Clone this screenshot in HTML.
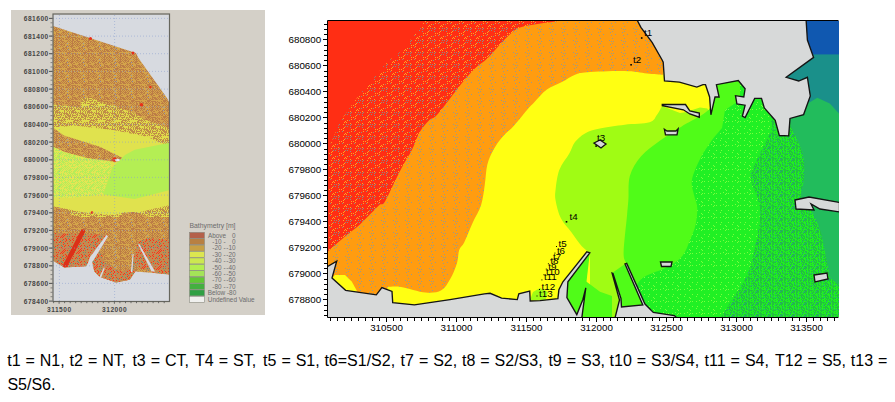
<!DOCTYPE html>
<html><head><meta charset="utf-8"><style>
html,body{margin:0;padding:0;background:#fff;width:895px;height:402px;overflow:hidden;position:relative}
.lt{font-family:"Liberation Sans",sans-serif;font-size:6.6px;font-weight:bold;letter-spacing:0.5px;fill:#464646}
.lg{font-family:"Liberation Sans",sans-serif;font-size:6.4px;fill:#6c6c6c}
.rt{font-family:"Liberation Sans",sans-serif;font-size:9.8px;fill:#000}
.st{font-family:"Liberation Sans",sans-serif;font-size:9.8px;fill:#000}
.cap{position:absolute;font-family:"Liberation Sans",sans-serif;font-size:16px;word-spacing:0.5px;color:#000;white-space:nowrap;line-height:18px}
</style></head><body>
<svg width="895" height="402" viewBox="0 0 895 402" style="position:absolute;left:0;top:0">
<defs><pattern id="pRed" patternUnits="userSpaceOnUse" x="0" y="0" width="12" height="12"><rect width="12" height="12" fill="#ff2e14"/><rect x="3" y="9" width="1" height="1" fill="#ffa424"/><rect x="8" y="2" width="1" height="1" fill="#ffa424"/><rect x="5" y="9" width="1" height="1" fill="#ffa424"/><rect x="7" y="10" width="1" height="1" fill="#ffa424"/><rect x="9" y="1" width="1" height="1" fill="#ffa424"/><rect x="7" y="4" width="1" height="1" fill="#ffa424"/><rect x="3" y="11" width="1" height="1" fill="#ffa424"/><rect x="7" y="8" width="1" height="1" fill="#ffa424"/><rect x="8" y="7" width="1" height="1" fill="#ffa424"/><rect x="2" y="3" width="1" height="1" fill="#ffa424"/><rect x="10" y="2" width="1" height="1" fill="#ffa424"/><rect x="11" y="0" width="1" height="1" fill="#ffa424"/><rect x="0" y="4" width="1" height="1" fill="#8c8c84"/><rect x="11" y="6" width="1" height="1" fill="#8c8c84"/><rect x="6" y="11" width="1" height="1" fill="#8c8c84"/><rect x="2" y="5" width="1" height="1" fill="#8c8c84"/><rect x="1" y="0" width="1" height="1" fill="#8c8c84"/><rect x="2" y="7" width="1" height="1" fill="#8c8c84"/><rect x="3" y="4" width="1" height="1" fill="#8c8c84"/><rect x="10" y="4" width="1" height="1" fill="#8c8c84"/><rect x="9" y="6" width="1" height="1" fill="#8c8c84"/></pattern><pattern id="pOra" patternUnits="userSpaceOnUse" x="0" y="0" width="12" height="12"><rect width="12" height="12" fill="#ff9c10"/><rect x="9" y="4" width="1" height="1" fill="#9a9a8a"/><rect x="11" y="5" width="1" height="1" fill="#9a9a8a"/><rect x="11" y="11" width="1" height="1" fill="#9a9a8a"/><rect x="10" y="8" width="1" height="1" fill="#9a9a8a"/><rect x="0" y="7" width="1" height="1" fill="#9a9a8a"/><rect x="3" y="10" width="1" height="1" fill="#9a9a8a"/><rect x="0" y="2" width="1" height="1" fill="#9a9a8a"/><rect x="1" y="5" width="1" height="1" fill="#9a9a8a"/></pattern><pattern id="pDg" patternUnits="userSpaceOnUse" x="0" y="0" width="12" height="12"><rect width="12" height="12" fill="#20f024"/><rect x="5" y="2" width="1" height="1" fill="#78ff3c"/><rect x="6" y="10" width="1" height="1" fill="#78ff3c"/><rect x="0" y="1" width="1" height="1" fill="#78ff3c"/><rect x="8" y="1" width="1" height="1" fill="#78ff3c"/><rect x="5" y="9" width="1" height="1" fill="#78ff3c"/><rect x="0" y="8" width="1" height="1" fill="#78ff3c"/><rect x="3" y="0" width="1" height="1" fill="#78ff3c"/><rect x="1" y="6" width="1" height="1" fill="#78ff3c"/><rect x="6" y="1" width="1" height="1" fill="#78ff3c"/><rect x="8" y="6" width="1" height="1" fill="#78ff3c"/></pattern><pattern id="pDk" patternUnits="userSpaceOnUse" x="0" y="0" width="12" height="12"><rect width="12" height="12" fill="#20f020"/><rect x="1" y="0" width="1" height="1" fill="#22c040"/><rect x="2" y="0" width="1" height="1" fill="#22c040"/><rect x="4" y="0" width="1" height="1" fill="#22c040"/><rect x="7" y="0" width="1" height="1" fill="#22c040"/><rect x="10" y="0" width="1" height="1" fill="#22c040"/><rect x="11" y="0" width="1" height="1" fill="#22c040"/><rect x="3" y="1" width="1" height="1" fill="#22c040"/><rect x="4" y="1" width="1" height="1" fill="#22c040"/><rect x="5" y="1" width="1" height="1" fill="#22c040"/><rect x="10" y="1" width="1" height="1" fill="#22c040"/><rect x="0" y="2" width="1" height="1" fill="#22c040"/><rect x="1" y="2" width="1" height="1" fill="#22c040"/><rect x="4" y="2" width="1" height="1" fill="#22c040"/><rect x="5" y="2" width="1" height="1" fill="#22c040"/><rect x="6" y="2" width="1" height="1" fill="#22c040"/><rect x="7" y="2" width="1" height="1" fill="#22c040"/><rect x="8" y="2" width="1" height="1" fill="#22c040"/><rect x="10" y="2" width="1" height="1" fill="#22c040"/><rect x="1" y="3" width="1" height="1" fill="#22c040"/><rect x="2" y="3" width="1" height="1" fill="#22c040"/><rect x="4" y="3" width="1" height="1" fill="#22c040"/><rect x="5" y="3" width="1" height="1" fill="#22c040"/><rect x="7" y="3" width="1" height="1" fill="#22c040"/><rect x="9" y="3" width="1" height="1" fill="#22c040"/><rect x="0" y="4" width="1" height="1" fill="#22c040"/><rect x="1" y="4" width="1" height="1" fill="#22c040"/><rect x="2" y="4" width="1" height="1" fill="#22c040"/><rect x="4" y="4" width="1" height="1" fill="#22c040"/><rect x="5" y="4" width="1" height="1" fill="#22c040"/><rect x="8" y="4" width="1" height="1" fill="#22c040"/><rect x="9" y="4" width="1" height="1" fill="#22c040"/><rect x="11" y="4" width="1" height="1" fill="#22c040"/><rect x="1" y="5" width="1" height="1" fill="#22c040"/><rect x="4" y="5" width="1" height="1" fill="#22c040"/><rect x="7" y="5" width="1" height="1" fill="#22c040"/><rect x="8" y="5" width="1" height="1" fill="#22c040"/><rect x="11" y="5" width="1" height="1" fill="#22c040"/><rect x="2" y="6" width="1" height="1" fill="#22c040"/><rect x="4" y="6" width="1" height="1" fill="#22c040"/><rect x="5" y="6" width="1" height="1" fill="#22c040"/><rect x="9" y="6" width="1" height="1" fill="#22c040"/><rect x="10" y="6" width="1" height="1" fill="#22c040"/><rect x="2" y="7" width="1" height="1" fill="#22c040"/><rect x="5" y="7" width="1" height="1" fill="#22c040"/><rect x="7" y="7" width="1" height="1" fill="#22c040"/><rect x="8" y="7" width="1" height="1" fill="#22c040"/><rect x="9" y="7" width="1" height="1" fill="#22c040"/><rect x="10" y="7" width="1" height="1" fill="#22c040"/><rect x="11" y="7" width="1" height="1" fill="#22c040"/><rect x="0" y="8" width="1" height="1" fill="#22c040"/><rect x="2" y="8" width="1" height="1" fill="#22c040"/><rect x="4" y="8" width="1" height="1" fill="#22c040"/><rect x="9" y="8" width="1" height="1" fill="#22c040"/><rect x="11" y="8" width="1" height="1" fill="#22c040"/><rect x="0" y="9" width="1" height="1" fill="#22c040"/><rect x="2" y="9" width="1" height="1" fill="#22c040"/><rect x="3" y="9" width="1" height="1" fill="#22c040"/><rect x="5" y="9" width="1" height="1" fill="#22c040"/><rect x="7" y="9" width="1" height="1" fill="#22c040"/><rect x="9" y="9" width="1" height="1" fill="#22c040"/><rect x="10" y="9" width="1" height="1" fill="#22c040"/><rect x="0" y="10" width="1" height="1" fill="#22c040"/><rect x="4" y="10" width="1" height="1" fill="#22c040"/><rect x="5" y="10" width="1" height="1" fill="#22c040"/><rect x="6" y="10" width="1" height="1" fill="#22c040"/><rect x="7" y="10" width="1" height="1" fill="#22c040"/><rect x="10" y="10" width="1" height="1" fill="#22c040"/><rect x="11" y="10" width="1" height="1" fill="#22c040"/><rect x="1" y="11" width="1" height="1" fill="#22c040"/><rect x="2" y="11" width="1" height="1" fill="#22c040"/><rect x="5" y="11" width="1" height="1" fill="#22c040"/><rect x="9" y="11" width="1" height="1" fill="#22c040"/><rect x="11" y="11" width="1" height="1" fill="#22c040"/><rect x="11" y="4" width="1" height="1" fill="#2a9c8a"/><rect x="9" y="9" width="1" height="1" fill="#2a9c8a"/><rect x="7" y="5" width="1" height="1" fill="#2a9c8a"/><rect x="1" y="0" width="1" height="1" fill="#2a9c8a"/><rect x="4" y="8" width="1" height="1" fill="#2a9c8a"/><rect x="2" y="2" width="1" height="1" fill="#2a9c8a"/><rect x="10" y="1" width="1" height="1" fill="#2a9c8a"/><rect x="0" y="3" width="1" height="1" fill="#2a9c8a"/><rect x="2" y="7" width="1" height="1" fill="#2a9c8a"/><rect x="7" y="9" width="1" height="1" fill="#2a9c8a"/></pattern><pattern id="pBr" patternUnits="userSpaceOnUse" x="0" y="0" width="16" height="16"><rect width="16" height="16" fill="#d4a44a"/><rect x="0" y="0" width="1" height="1" fill="#bc7c46"/><rect x="2" y="0" width="1" height="1" fill="#bc7c46"/><rect x="4" y="0" width="1" height="1" fill="#bc7c46"/><rect x="8" y="0" width="1" height="1" fill="#bc7c46"/><rect x="14" y="0" width="1" height="1" fill="#bc7c46"/><rect x="15" y="0" width="1" height="1" fill="#bc7c46"/><rect x="1" y="1" width="1" height="1" fill="#bc7c46"/><rect x="3" y="1" width="1" height="1" fill="#bc7c46"/><rect x="4" y="1" width="1" height="1" fill="#bc7c46"/><rect x="8" y="1" width="1" height="1" fill="#bc7c46"/><rect x="9" y="1" width="1" height="1" fill="#bc7c46"/><rect x="10" y="1" width="1" height="1" fill="#bc7c46"/><rect x="11" y="1" width="1" height="1" fill="#bc7c46"/><rect x="13" y="1" width="1" height="1" fill="#bc7c46"/><rect x="15" y="1" width="1" height="1" fill="#bc7c46"/><rect x="0" y="2" width="1" height="1" fill="#bc7c46"/><rect x="2" y="2" width="1" height="1" fill="#bc7c46"/><rect x="4" y="2" width="1" height="1" fill="#bc7c46"/><rect x="6" y="2" width="1" height="1" fill="#bc7c46"/><rect x="8" y="2" width="1" height="1" fill="#bc7c46"/><rect x="10" y="2" width="1" height="1" fill="#bc7c46"/><rect x="11" y="2" width="1" height="1" fill="#bc7c46"/><rect x="12" y="2" width="1" height="1" fill="#bc7c46"/><rect x="14" y="2" width="1" height="1" fill="#bc7c46"/><rect x="1" y="3" width="1" height="1" fill="#bc7c46"/><rect x="2" y="3" width="1" height="1" fill="#bc7c46"/><rect x="5" y="3" width="1" height="1" fill="#bc7c46"/><rect x="7" y="3" width="1" height="1" fill="#bc7c46"/><rect x="8" y="3" width="1" height="1" fill="#bc7c46"/><rect x="9" y="3" width="1" height="1" fill="#bc7c46"/><rect x="11" y="3" width="1" height="1" fill="#bc7c46"/><rect x="12" y="3" width="1" height="1" fill="#bc7c46"/><rect x="13" y="3" width="1" height="1" fill="#bc7c46"/><rect x="15" y="3" width="1" height="1" fill="#bc7c46"/><rect x="3" y="4" width="1" height="1" fill="#bc7c46"/><rect x="4" y="4" width="1" height="1" fill="#bc7c46"/><rect x="5" y="4" width="1" height="1" fill="#bc7c46"/><rect x="6" y="4" width="1" height="1" fill="#bc7c46"/><rect x="1" y="5" width="1" height="1" fill="#bc7c46"/><rect x="3" y="5" width="1" height="1" fill="#bc7c46"/><rect x="4" y="5" width="1" height="1" fill="#bc7c46"/><rect x="5" y="5" width="1" height="1" fill="#bc7c46"/><rect x="7" y="5" width="1" height="1" fill="#bc7c46"/><rect x="8" y="5" width="1" height="1" fill="#bc7c46"/><rect x="9" y="5" width="1" height="1" fill="#bc7c46"/><rect x="10" y="5" width="1" height="1" fill="#bc7c46"/><rect x="11" y="5" width="1" height="1" fill="#bc7c46"/><rect x="13" y="5" width="1" height="1" fill="#bc7c46"/><rect x="2" y="6" width="1" height="1" fill="#bc7c46"/><rect x="4" y="6" width="1" height="1" fill="#bc7c46"/><rect x="6" y="6" width="1" height="1" fill="#bc7c46"/><rect x="8" y="6" width="1" height="1" fill="#bc7c46"/><rect x="11" y="6" width="1" height="1" fill="#bc7c46"/><rect x="12" y="6" width="1" height="1" fill="#bc7c46"/><rect x="14" y="6" width="1" height="1" fill="#bc7c46"/><rect x="15" y="6" width="1" height="1" fill="#bc7c46"/><rect x="1" y="7" width="1" height="1" fill="#bc7c46"/><rect x="2" y="7" width="1" height="1" fill="#bc7c46"/><rect x="3" y="7" width="1" height="1" fill="#bc7c46"/><rect x="5" y="7" width="1" height="1" fill="#bc7c46"/><rect x="8" y="7" width="1" height="1" fill="#bc7c46"/><rect x="9" y="7" width="1" height="1" fill="#bc7c46"/><rect x="11" y="7" width="1" height="1" fill="#bc7c46"/><rect x="13" y="7" width="1" height="1" fill="#bc7c46"/><rect x="15" y="7" width="1" height="1" fill="#bc7c46"/><rect x="4" y="8" width="1" height="1" fill="#bc7c46"/><rect x="6" y="8" width="1" height="1" fill="#bc7c46"/><rect x="8" y="8" width="1" height="1" fill="#bc7c46"/><rect x="9" y="8" width="1" height="1" fill="#bc7c46"/><rect x="12" y="8" width="1" height="1" fill="#bc7c46"/><rect x="13" y="8" width="1" height="1" fill="#bc7c46"/><rect x="3" y="9" width="1" height="1" fill="#bc7c46"/><rect x="5" y="9" width="1" height="1" fill="#bc7c46"/><rect x="7" y="9" width="1" height="1" fill="#bc7c46"/><rect x="8" y="9" width="1" height="1" fill="#bc7c46"/><rect x="10" y="9" width="1" height="1" fill="#bc7c46"/><rect x="11" y="9" width="1" height="1" fill="#bc7c46"/><rect x="13" y="9" width="1" height="1" fill="#bc7c46"/><rect x="14" y="9" width="1" height="1" fill="#bc7c46"/><rect x="15" y="9" width="1" height="1" fill="#bc7c46"/><rect x="0" y="10" width="1" height="1" fill="#bc7c46"/><rect x="2" y="10" width="1" height="1" fill="#bc7c46"/><rect x="6" y="10" width="1" height="1" fill="#bc7c46"/><rect x="8" y="10" width="1" height="1" fill="#bc7c46"/><rect x="10" y="10" width="1" height="1" fill="#bc7c46"/><rect x="12" y="10" width="1" height="1" fill="#bc7c46"/><rect x="14" y="10" width="1" height="1" fill="#bc7c46"/><rect x="1" y="11" width="1" height="1" fill="#bc7c46"/><rect x="3" y="11" width="1" height="1" fill="#bc7c46"/><rect x="5" y="11" width="1" height="1" fill="#bc7c46"/><rect x="7" y="11" width="1" height="1" fill="#bc7c46"/><rect x="8" y="11" width="1" height="1" fill="#bc7c46"/><rect x="9" y="11" width="1" height="1" fill="#bc7c46"/><rect x="11" y="11" width="1" height="1" fill="#bc7c46"/><rect x="13" y="11" width="1" height="1" fill="#bc7c46"/><rect x="15" y="11" width="1" height="1" fill="#bc7c46"/><rect x="0" y="12" width="1" height="1" fill="#bc7c46"/><rect x="6" y="12" width="1" height="1" fill="#bc7c46"/><rect x="8" y="12" width="1" height="1" fill="#bc7c46"/><rect x="10" y="12" width="1" height="1" fill="#bc7c46"/><rect x="12" y="12" width="1" height="1" fill="#bc7c46"/><rect x="13" y="12" width="1" height="1" fill="#bc7c46"/><rect x="14" y="12" width="1" height="1" fill="#bc7c46"/><rect x="0" y="13" width="1" height="1" fill="#bc7c46"/><rect x="3" y="13" width="1" height="1" fill="#bc7c46"/><rect x="5" y="13" width="1" height="1" fill="#bc7c46"/><rect x="7" y="13" width="1" height="1" fill="#bc7c46"/><rect x="8" y="13" width="1" height="1" fill="#bc7c46"/><rect x="9" y="13" width="1" height="1" fill="#bc7c46"/><rect x="11" y="13" width="1" height="1" fill="#bc7c46"/><rect x="13" y="13" width="1" height="1" fill="#bc7c46"/><rect x="15" y="13" width="1" height="1" fill="#bc7c46"/><rect x="2" y="14" width="1" height="1" fill="#bc7c46"/><rect x="4" y="14" width="1" height="1" fill="#bc7c46"/><rect x="6" y="14" width="1" height="1" fill="#bc7c46"/><rect x="7" y="14" width="1" height="1" fill="#bc7c46"/><rect x="8" y="14" width="1" height="1" fill="#bc7c46"/><rect x="12" y="14" width="1" height="1" fill="#bc7c46"/><rect x="14" y="14" width="1" height="1" fill="#bc7c46"/><rect x="1" y="15" width="1" height="1" fill="#bc7c46"/><rect x="2" y="15" width="1" height="1" fill="#bc7c46"/><rect x="7" y="15" width="1" height="1" fill="#bc7c46"/><rect x="9" y="15" width="1" height="1" fill="#bc7c46"/><rect x="10" y="15" width="1" height="1" fill="#bc7c46"/><rect x="15" y="15" width="1" height="1" fill="#bc7c46"/><rect x="4" y="1" width="1" height="1" fill="#9aa0a8"/><rect x="3" y="14" width="1" height="1" fill="#9aa0a8"/><rect x="3" y="11" width="1" height="1" fill="#9aa0a8"/></pattern><pattern id="pYb" patternUnits="userSpaceOnUse" x="0" y="0" width="16" height="16"><rect width="16" height="16" fill="#e0dc4a"/><rect x="0" y="0" width="1" height="1" fill="#c08c48"/><rect x="2" y="0" width="1" height="1" fill="#c08c48"/><rect x="5" y="0" width="1" height="1" fill="#c08c48"/><rect x="7" y="0" width="1" height="1" fill="#c08c48"/><rect x="8" y="0" width="1" height="1" fill="#c08c48"/><rect x="9" y="0" width="1" height="1" fill="#c08c48"/><rect x="10" y="0" width="1" height="1" fill="#c08c48"/><rect x="11" y="0" width="1" height="1" fill="#c08c48"/><rect x="12" y="0" width="1" height="1" fill="#c08c48"/><rect x="14" y="0" width="1" height="1" fill="#c08c48"/><rect x="0" y="1" width="1" height="1" fill="#c08c48"/><rect x="1" y="1" width="1" height="1" fill="#c08c48"/><rect x="2" y="1" width="1" height="1" fill="#c08c48"/><rect x="3" y="1" width="1" height="1" fill="#c08c48"/><rect x="5" y="1" width="1" height="1" fill="#c08c48"/><rect x="7" y="1" width="1" height="1" fill="#c08c48"/><rect x="9" y="1" width="1" height="1" fill="#c08c48"/><rect x="11" y="1" width="1" height="1" fill="#c08c48"/><rect x="13" y="1" width="1" height="1" fill="#c08c48"/><rect x="15" y="1" width="1" height="1" fill="#c08c48"/><rect x="0" y="2" width="1" height="1" fill="#c08c48"/><rect x="2" y="2" width="1" height="1" fill="#c08c48"/><rect x="3" y="2" width="1" height="1" fill="#c08c48"/><rect x="4" y="2" width="1" height="1" fill="#c08c48"/><rect x="6" y="2" width="1" height="1" fill="#c08c48"/><rect x="8" y="2" width="1" height="1" fill="#c08c48"/><rect x="12" y="2" width="1" height="1" fill="#c08c48"/><rect x="13" y="2" width="1" height="1" fill="#c08c48"/><rect x="1" y="3" width="1" height="1" fill="#c08c48"/><rect x="3" y="3" width="1" height="1" fill="#c08c48"/><rect x="4" y="3" width="1" height="1" fill="#c08c48"/><rect x="5" y="3" width="1" height="1" fill="#c08c48"/><rect x="6" y="3" width="1" height="1" fill="#c08c48"/><rect x="8" y="3" width="1" height="1" fill="#c08c48"/><rect x="9" y="3" width="1" height="1" fill="#c08c48"/><rect x="10" y="3" width="1" height="1" fill="#c08c48"/><rect x="11" y="3" width="1" height="1" fill="#c08c48"/><rect x="13" y="3" width="1" height="1" fill="#c08c48"/><rect x="15" y="3" width="1" height="1" fill="#c08c48"/><rect x="1" y="4" width="1" height="1" fill="#c08c48"/><rect x="2" y="4" width="1" height="1" fill="#c08c48"/><rect x="4" y="4" width="1" height="1" fill="#c08c48"/><rect x="5" y="4" width="1" height="1" fill="#c08c48"/><rect x="6" y="4" width="1" height="1" fill="#c08c48"/><rect x="8" y="4" width="1" height="1" fill="#c08c48"/><rect x="12" y="4" width="1" height="1" fill="#c08c48"/><rect x="1" y="5" width="1" height="1" fill="#c08c48"/><rect x="2" y="5" width="1" height="1" fill="#c08c48"/><rect x="3" y="5" width="1" height="1" fill="#c08c48"/><rect x="5" y="5" width="1" height="1" fill="#c08c48"/><rect x="7" y="5" width="1" height="1" fill="#c08c48"/><rect x="9" y="5" width="1" height="1" fill="#c08c48"/><rect x="10" y="5" width="1" height="1" fill="#c08c48"/><rect x="11" y="5" width="1" height="1" fill="#c08c48"/><rect x="12" y="5" width="1" height="1" fill="#c08c48"/><rect x="14" y="5" width="1" height="1" fill="#c08c48"/><rect x="15" y="5" width="1" height="1" fill="#c08c48"/><rect x="0" y="6" width="1" height="1" fill="#c08c48"/><rect x="4" y="6" width="1" height="1" fill="#c08c48"/><rect x="5" y="6" width="1" height="1" fill="#c08c48"/><rect x="10" y="6" width="1" height="1" fill="#c08c48"/><rect x="14" y="6" width="1" height="1" fill="#c08c48"/><rect x="0" y="7" width="1" height="1" fill="#c08c48"/><rect x="1" y="7" width="1" height="1" fill="#c08c48"/><rect x="3" y="7" width="1" height="1" fill="#c08c48"/><rect x="5" y="7" width="1" height="1" fill="#c08c48"/><rect x="7" y="7" width="1" height="1" fill="#c08c48"/><rect x="8" y="7" width="1" height="1" fill="#c08c48"/><rect x="9" y="7" width="1" height="1" fill="#c08c48"/><rect x="11" y="7" width="1" height="1" fill="#c08c48"/><rect x="13" y="7" width="1" height="1" fill="#c08c48"/><rect x="15" y="7" width="1" height="1" fill="#c08c48"/><rect x="0" y="8" width="1" height="1" fill="#c08c48"/><rect x="10" y="8" width="1" height="1" fill="#c08c48"/><rect x="11" y="8" width="1" height="1" fill="#c08c48"/><rect x="12" y="8" width="1" height="1" fill="#c08c48"/><rect x="13" y="8" width="1" height="1" fill="#c08c48"/><rect x="14" y="8" width="1" height="1" fill="#c08c48"/><rect x="1" y="9" width="1" height="1" fill="#c08c48"/><rect x="9" y="9" width="1" height="1" fill="#c08c48"/><rect x="10" y="9" width="1" height="1" fill="#c08c48"/><rect x="13" y="9" width="1" height="1" fill="#c08c48"/><rect x="15" y="9" width="1" height="1" fill="#c08c48"/><rect x="4" y="10" width="1" height="1" fill="#c08c48"/><rect x="6" y="10" width="1" height="1" fill="#c08c48"/><rect x="7" y="10" width="1" height="1" fill="#c08c48"/><rect x="9" y="10" width="1" height="1" fill="#c08c48"/><rect x="10" y="10" width="1" height="1" fill="#c08c48"/><rect x="11" y="10" width="1" height="1" fill="#c08c48"/><rect x="12" y="10" width="1" height="1" fill="#c08c48"/><rect x="14" y="10" width="1" height="1" fill="#c08c48"/><rect x="0" y="11" width="1" height="1" fill="#c08c48"/><rect x="1" y="11" width="1" height="1" fill="#c08c48"/><rect x="3" y="11" width="1" height="1" fill="#c08c48"/><rect x="5" y="11" width="1" height="1" fill="#c08c48"/><rect x="7" y="11" width="1" height="1" fill="#c08c48"/><rect x="9" y="11" width="1" height="1" fill="#c08c48"/><rect x="12" y="11" width="1" height="1" fill="#c08c48"/><rect x="13" y="11" width="1" height="1" fill="#c08c48"/><rect x="15" y="11" width="1" height="1" fill="#c08c48"/><rect x="0" y="12" width="1" height="1" fill="#c08c48"/><rect x="2" y="12" width="1" height="1" fill="#c08c48"/><rect x="3" y="12" width="1" height="1" fill="#c08c48"/><rect x="5" y="12" width="1" height="1" fill="#c08c48"/><rect x="6" y="12" width="1" height="1" fill="#c08c48"/><rect x="7" y="12" width="1" height="1" fill="#c08c48"/><rect x="8" y="12" width="1" height="1" fill="#c08c48"/><rect x="10" y="12" width="1" height="1" fill="#c08c48"/><rect x="12" y="12" width="1" height="1" fill="#c08c48"/><rect x="14" y="12" width="1" height="1" fill="#c08c48"/><rect x="1" y="13" width="1" height="1" fill="#c08c48"/><rect x="2" y="13" width="1" height="1" fill="#c08c48"/><rect x="3" y="13" width="1" height="1" fill="#c08c48"/><rect x="5" y="13" width="1" height="1" fill="#c08c48"/><rect x="7" y="13" width="1" height="1" fill="#c08c48"/><rect x="10" y="13" width="1" height="1" fill="#c08c48"/><rect x="11" y="13" width="1" height="1" fill="#c08c48"/><rect x="13" y="13" width="1" height="1" fill="#c08c48"/><rect x="14" y="13" width="1" height="1" fill="#c08c48"/><rect x="15" y="13" width="1" height="1" fill="#c08c48"/><rect x="0" y="14" width="1" height="1" fill="#c08c48"/><rect x="2" y="14" width="1" height="1" fill="#c08c48"/><rect x="4" y="14" width="1" height="1" fill="#c08c48"/><rect x="6" y="14" width="1" height="1" fill="#c08c48"/><rect x="8" y="14" width="1" height="1" fill="#c08c48"/><rect x="9" y="14" width="1" height="1" fill="#c08c48"/><rect x="10" y="14" width="1" height="1" fill="#c08c48"/><rect x="0" y="15" width="1" height="1" fill="#c08c48"/><rect x="3" y="15" width="1" height="1" fill="#c08c48"/><rect x="5" y="15" width="1" height="1" fill="#c08c48"/><rect x="7" y="15" width="1" height="1" fill="#c08c48"/><rect x="8" y="15" width="1" height="1" fill="#c08c48"/><rect x="9" y="15" width="1" height="1" fill="#c08c48"/><rect x="11" y="15" width="1" height="1" fill="#c08c48"/></pattern><pattern id="pYm" patternUnits="userSpaceOnUse" x="0" y="0" width="16" height="16"><rect width="16" height="16" fill="#e4e654"/><rect x="0" y="0" width="1" height="1" fill="#b8ec58"/><rect x="2" y="0" width="1" height="1" fill="#b8ec58"/><rect x="4" y="0" width="1" height="1" fill="#b8ec58"/><rect x="6" y="0" width="1" height="1" fill="#b8ec58"/><rect x="7" y="0" width="1" height="1" fill="#b8ec58"/><rect x="10" y="0" width="1" height="1" fill="#b8ec58"/><rect x="12" y="0" width="1" height="1" fill="#b8ec58"/><rect x="14" y="0" width="1" height="1" fill="#b8ec58"/><rect x="1" y="1" width="1" height="1" fill="#b8ec58"/><rect x="2" y="1" width="1" height="1" fill="#b8ec58"/><rect x="3" y="1" width="1" height="1" fill="#b8ec58"/><rect x="7" y="1" width="1" height="1" fill="#b8ec58"/><rect x="11" y="1" width="1" height="1" fill="#b8ec58"/><rect x="13" y="1" width="1" height="1" fill="#b8ec58"/><rect x="14" y="1" width="1" height="1" fill="#b8ec58"/><rect x="15" y="1" width="1" height="1" fill="#b8ec58"/><rect x="0" y="2" width="1" height="1" fill="#b8ec58"/><rect x="4" y="2" width="1" height="1" fill="#b8ec58"/><rect x="10" y="2" width="1" height="1" fill="#b8ec58"/><rect x="12" y="2" width="1" height="1" fill="#b8ec58"/><rect x="14" y="2" width="1" height="1" fill="#b8ec58"/><rect x="15" y="2" width="1" height="1" fill="#b8ec58"/><rect x="1" y="3" width="1" height="1" fill="#b8ec58"/><rect x="3" y="3" width="1" height="1" fill="#b8ec58"/><rect x="5" y="3" width="1" height="1" fill="#b8ec58"/><rect x="6" y="3" width="1" height="1" fill="#b8ec58"/><rect x="7" y="3" width="1" height="1" fill="#b8ec58"/><rect x="9" y="3" width="1" height="1" fill="#b8ec58"/><rect x="10" y="3" width="1" height="1" fill="#b8ec58"/><rect x="11" y="3" width="1" height="1" fill="#b8ec58"/><rect x="13" y="3" width="1" height="1" fill="#b8ec58"/><rect x="15" y="3" width="1" height="1" fill="#b8ec58"/><rect x="0" y="4" width="1" height="1" fill="#b8ec58"/><rect x="4" y="4" width="1" height="1" fill="#b8ec58"/><rect x="6" y="4" width="1" height="1" fill="#b8ec58"/><rect x="8" y="4" width="1" height="1" fill="#b8ec58"/><rect x="12" y="4" width="1" height="1" fill="#b8ec58"/><rect x="13" y="4" width="1" height="1" fill="#b8ec58"/><rect x="14" y="4" width="1" height="1" fill="#b8ec58"/><rect x="1" y="5" width="1" height="1" fill="#b8ec58"/><rect x="3" y="5" width="1" height="1" fill="#b8ec58"/><rect x="8" y="5" width="1" height="1" fill="#b8ec58"/><rect x="11" y="5" width="1" height="1" fill="#b8ec58"/><rect x="13" y="5" width="1" height="1" fill="#b8ec58"/><rect x="0" y="6" width="1" height="1" fill="#b8ec58"/><rect x="1" y="6" width="1" height="1" fill="#b8ec58"/><rect x="2" y="6" width="1" height="1" fill="#b8ec58"/><rect x="4" y="6" width="1" height="1" fill="#b8ec58"/><rect x="7" y="6" width="1" height="1" fill="#b8ec58"/><rect x="8" y="6" width="1" height="1" fill="#b8ec58"/><rect x="9" y="6" width="1" height="1" fill="#b8ec58"/><rect x="10" y="6" width="1" height="1" fill="#b8ec58"/><rect x="14" y="6" width="1" height="1" fill="#b8ec58"/><rect x="1" y="7" width="1" height="1" fill="#b8ec58"/><rect x="3" y="7" width="1" height="1" fill="#b8ec58"/><rect x="5" y="7" width="1" height="1" fill="#b8ec58"/><rect x="13" y="7" width="1" height="1" fill="#b8ec58"/><rect x="15" y="7" width="1" height="1" fill="#b8ec58"/><rect x="0" y="8" width="1" height="1" fill="#b8ec58"/><rect x="2" y="8" width="1" height="1" fill="#b8ec58"/><rect x="4" y="8" width="1" height="1" fill="#b8ec58"/><rect x="6" y="8" width="1" height="1" fill="#b8ec58"/><rect x="8" y="8" width="1" height="1" fill="#b8ec58"/><rect x="10" y="8" width="1" height="1" fill="#b8ec58"/><rect x="12" y="8" width="1" height="1" fill="#b8ec58"/><rect x="13" y="8" width="1" height="1" fill="#b8ec58"/><rect x="14" y="8" width="1" height="1" fill="#b8ec58"/><rect x="1" y="9" width="1" height="1" fill="#b8ec58"/><rect x="3" y="9" width="1" height="1" fill="#b8ec58"/><rect x="5" y="9" width="1" height="1" fill="#b8ec58"/><rect x="6" y="9" width="1" height="1" fill="#b8ec58"/><rect x="7" y="9" width="1" height="1" fill="#b8ec58"/><rect x="9" y="9" width="1" height="1" fill="#b8ec58"/><rect x="11" y="9" width="1" height="1" fill="#b8ec58"/><rect x="12" y="9" width="1" height="1" fill="#b8ec58"/><rect x="13" y="9" width="1" height="1" fill="#b8ec58"/><rect x="15" y="9" width="1" height="1" fill="#b8ec58"/><rect x="2" y="10" width="1" height="1" fill="#b8ec58"/><rect x="4" y="10" width="1" height="1" fill="#b8ec58"/><rect x="5" y="10" width="1" height="1" fill="#b8ec58"/><rect x="6" y="10" width="1" height="1" fill="#b8ec58"/><rect x="10" y="10" width="1" height="1" fill="#b8ec58"/><rect x="11" y="10" width="1" height="1" fill="#b8ec58"/><rect x="12" y="10" width="1" height="1" fill="#b8ec58"/><rect x="14" y="10" width="1" height="1" fill="#b8ec58"/><rect x="0" y="11" width="1" height="1" fill="#b8ec58"/><rect x="1" y="11" width="1" height="1" fill="#b8ec58"/><rect x="2" y="11" width="1" height="1" fill="#b8ec58"/><rect x="3" y="11" width="1" height="1" fill="#b8ec58"/><rect x="5" y="11" width="1" height="1" fill="#b8ec58"/><rect x="7" y="11" width="1" height="1" fill="#b8ec58"/><rect x="9" y="11" width="1" height="1" fill="#b8ec58"/><rect x="10" y="11" width="1" height="1" fill="#b8ec58"/><rect x="11" y="11" width="1" height="1" fill="#b8ec58"/><rect x="13" y="11" width="1" height="1" fill="#b8ec58"/><rect x="0" y="12" width="1" height="1" fill="#b8ec58"/><rect x="2" y="12" width="1" height="1" fill="#b8ec58"/><rect x="4" y="12" width="1" height="1" fill="#b8ec58"/><rect x="5" y="12" width="1" height="1" fill="#b8ec58"/><rect x="6" y="12" width="1" height="1" fill="#b8ec58"/><rect x="9" y="12" width="1" height="1" fill="#b8ec58"/><rect x="10" y="12" width="1" height="1" fill="#b8ec58"/><rect x="3" y="13" width="1" height="1" fill="#b8ec58"/><rect x="5" y="13" width="1" height="1" fill="#b8ec58"/><rect x="7" y="13" width="1" height="1" fill="#b8ec58"/><rect x="8" y="13" width="1" height="1" fill="#b8ec58"/><rect x="9" y="13" width="1" height="1" fill="#b8ec58"/><rect x="10" y="13" width="1" height="1" fill="#b8ec58"/><rect x="11" y="13" width="1" height="1" fill="#b8ec58"/><rect x="13" y="13" width="1" height="1" fill="#b8ec58"/><rect x="15" y="13" width="1" height="1" fill="#b8ec58"/><rect x="0" y="14" width="1" height="1" fill="#b8ec58"/><rect x="4" y="14" width="1" height="1" fill="#b8ec58"/><rect x="6" y="14" width="1" height="1" fill="#b8ec58"/><rect x="8" y="14" width="1" height="1" fill="#b8ec58"/><rect x="10" y="14" width="1" height="1" fill="#b8ec58"/><rect x="11" y="14" width="1" height="1" fill="#b8ec58"/><rect x="12" y="14" width="1" height="1" fill="#b8ec58"/><rect x="13" y="14" width="1" height="1" fill="#b8ec58"/><rect x="15" y="14" width="1" height="1" fill="#b8ec58"/><rect x="1" y="15" width="1" height="1" fill="#b8ec58"/><rect x="3" y="15" width="1" height="1" fill="#b8ec58"/><rect x="4" y="15" width="1" height="1" fill="#b8ec58"/><rect x="5" y="15" width="1" height="1" fill="#b8ec58"/><rect x="6" y="15" width="1" height="1" fill="#b8ec58"/><rect x="7" y="15" width="1" height="1" fill="#b8ec58"/><rect x="9" y="15" width="1" height="1" fill="#b8ec58"/><rect x="11" y="15" width="1" height="1" fill="#b8ec58"/><rect x="13" y="15" width="1" height="1" fill="#b8ec58"/><rect x="15" y="15" width="1" height="1" fill="#b8ec58"/></pattern><pattern id="pRb" patternUnits="userSpaceOnUse" x="0" y="0" width="16" height="16"><rect width="16" height="16" fill="#c48a50"/><rect x="6" y="0" width="1" height="1" fill="#ff3018"/><rect x="1" y="5" width="1" height="1" fill="#ff3018"/><rect x="11" y="7" width="1" height="1" fill="#ff3018"/><rect x="3" y="10" width="1" height="1" fill="#ff3018"/><rect x="14" y="11" width="1" height="1" fill="#ff3018"/><rect x="8" y="12" width="1" height="1" fill="#ff3018"/><rect x="7" y="6" width="1" height="1" fill="#ff3018"/><rect x="11" y="10" width="1" height="1" fill="#ff3018"/><rect x="7" y="9" width="1" height="1" fill="#ff3018"/><rect x="13" y="7" width="1" height="1" fill="#ff3018"/><rect x="14" y="13" width="1" height="1" fill="#ff3018"/><rect x="15" y="2" width="1" height="1" fill="#ff3018"/><rect x="2" y="15" width="1" height="1" fill="#ff3018"/><rect x="0" y="6" width="1" height="1" fill="#ff3018"/><rect x="4" y="5" width="1" height="1" fill="#ff3018"/><rect x="0" y="9" width="1" height="1" fill="#ff3018"/><rect x="15" y="4" width="1" height="1" fill="#ff3018"/><rect x="3" y="3" width="1" height="1" fill="#ff3018"/><rect x="12" y="1" width="1" height="1" fill="#ff3018"/><rect x="11" y="2" width="1" height="1" fill="#ff3018"/><rect x="9" y="5" width="1" height="1" fill="#ff3018"/><rect x="10" y="12" width="1" height="1" fill="#ff3018"/><rect x="15" y="10" width="1" height="1" fill="#ff3018"/><rect x="8" y="15" width="1" height="1" fill="#ff3018"/><rect x="15" y="12" width="1" height="1" fill="#ff3018"/><rect x="8" y="2" width="1" height="1" fill="#ff3018"/><rect x="1" y="14" width="1" height="1" fill="#ff3018"/><rect x="1" y="8" width="1" height="1" fill="#ff3018"/><rect x="5" y="15" width="1" height="1" fill="#ff3018"/><rect x="15" y="15" width="1" height="1" fill="#ff3018"/><rect x="1" y="1" width="1" height="1" fill="#ff3018"/><rect x="14" y="8" width="1" height="1" fill="#ff3018"/><rect x="2" y="0" width="1" height="1" fill="#ff3018"/><rect x="1" y="10" width="1" height="1" fill="#ff3018"/><rect x="12" y="13" width="1" height="1" fill="#ff3018"/><rect x="9" y="14" width="1" height="1" fill="#ff3018"/><rect x="9" y="0" width="1" height="1" fill="#ff3018"/><rect x="13" y="12" width="1" height="1" fill="#ff3018"/><rect x="0" y="11" width="1" height="1" fill="#ff3018"/><rect x="4" y="8" width="1" height="1" fill="#ff3018"/><rect x="3" y="12" width="1" height="1" fill="#6a8a7a"/><rect x="10" y="4" width="1" height="1" fill="#6a8a7a"/><rect x="0" y="3" width="1" height="1" fill="#6a8a7a"/><rect x="4" y="14" width="1" height="1" fill="#6a8a7a"/><rect x="5" y="6" width="1" height="1" fill="#6a8a7a"/><rect x="5" y="10" width="1" height="1" fill="#6a8a7a"/><rect x="5" y="1" width="1" height="1" fill="#6a8a7a"/><rect x="14" y="6" width="1" height="1" fill="#6a8a7a"/><rect x="13" y="5" width="1" height="1" fill="#6a8a7a"/><rect x="13" y="2" width="1" height="1" fill="#6a8a7a"/><rect x="14" y="0" width="1" height="1" fill="#6a8a7a"/><rect x="6" y="7" width="1" height="1" fill="#6a8a7a"/><rect x="5" y="12" width="1" height="1" fill="#6a8a7a"/><rect x="9" y="7" width="1" height="1" fill="#6a8a7a"/></pattern></defs>
<defs><clipPath id="cr"><rect x="328" y="21" width="511" height="296"/></clipPath><clipPath id="cl"><rect x="53" y="15" width="116" height="286.5"/></clipPath></defs>
<rect x="11" y="10" width="254" height="305" fill="#d4d0c8"/>
<rect x="52.5" y="14.5" width="116.5" height="287" fill="#d7dae0"/>
<g clip-path="url(#cl)">
<polygon points="52.0,25.7 135.9,53.1 138.4,58.0 167.0,97.9 170.0,104.0 170.0,274.4 168.2,274.4 154.5,273.0 135.3,271.6 129.8,279.8 116.2,282.6 108.0,279.8 99.7,277.1 94.3,271.6 91.5,258.0 86.0,266.2 64.2,267.5 53.2,260.7 52.0,260.7" fill="url(#pBr)"/>
<polygon points="52.0,104.4 80.7,107.6 81.5,97.9 92.0,97.9 103.4,102.8 114.7,106.0 134.0,113.3 147.0,120.6 166.4,127.0 170.0,130.0 170.0,217.0 150.0,217.0 130.0,211.0 118.0,217.0 75.0,217.0 60.0,207.0 52.0,207.0" fill="url(#pYb)"/>
<polygon points="52.0,127.0 61.3,127.0 74.3,125.4 114.7,130.3 147.0,136.7 161.6,143.2 170.0,145.0 170.0,205.0 140.0,212.0 125.0,212.0 115.0,215.0 87.0,213.0 62.0,208.0 52.0,206.0" fill="#e0e24e"/>
<polygon points="52.0,125.0 54.5,128.4 63.4,135.2 79.9,140.4 99.3,146.4 114.2,153.8 123.1,158.3 126.0,161.0 123.1,162.0 109.7,161.3 87.3,158.3 64.9,152.3 52.0,146.4" fill="url(#pBr)"/>
<polygon points="52.0,146.4 64.9,152.3 87.3,158.3 109.7,161.3 112.0,166.0 103.3,194.5 70.0,198.0 52.0,197.0" fill="url(#pYm)"/>
<polygon points="112.3,167.6 125.0,155.0 134.7,149.7 168.3,143.0 170.0,143.0 170.0,190.0 134.7,199.0 103.3,194.5" fill="#b4ee54"/>
<polygon points="52.0,233.0 70.0,233.5 100.0,234.4 108.0,234.4 104.0,245.0 91.5,258.0 86.0,266.2 64.2,267.5 53.2,260.7 52.0,260.7" fill="url(#pRb)"/>
<polygon points="91.5,258.0 100.0,250.0 105.0,262.0 111.0,267.0 121.0,271.0 130.0,269.0 134.0,262.0 135.3,271.6 129.8,279.8 116.2,282.6 108.0,279.8 99.7,277.1 94.3,271.6" fill="url(#pRb)"/>
<polygon points="138.0,241.0 150.0,238.0 170.0,240.0 170.0,274.4 154.5,273.0 140.0,268.0 132.0,262.0" fill="url(#pRb)"/>
<polygon points="106.6,234.7 108.0,236.5 93.0,261.0 87.0,266.0 90.0,257.0" fill="#d7dae0"/>
<polygon points="103.8,267.5 104.8,268.0 101.0,278.0 99.2,277.5" fill="#d7dae0"/>
<polygon points="132.6,253.8 133.6,254.0 132.4,272.0 130.8,272.0" fill="#d7dae0"/>
<polygon points="138.0,244.3 139.5,244.3 155.0,271.5 151.5,271.5" fill="#d7dae0"/>
<line x1="82.8" y1="231.5" x2="65.5" y2="265" stroke="#dc3018" stroke-width="4.5" stroke-linecap="round"/>
<circle cx="114.5" cy="159.5" r="2.2" fill="#e83018"/>
<circle cx="141.4" cy="104.8" r="1.8" fill="#e83018"/>
<circle cx="150.4" cy="87" r="1.3" fill="#e83018"/>
<circle cx="92" cy="212.5" r="1.3" fill="#e83018"/>
<circle cx="90.5" cy="38.5" r="1.5" fill="#e83018"/>
<circle cx="133" cy="53" r="1.5" fill="#e83018"/>
<ellipse cx="117.5" cy="160" rx="2.5" ry="1.3" fill="#e8e8e8"/>
</g>
<line x1="59.4" y1="15" x2="59.4" y2="301" stroke="#8ca0d0" stroke-width="1" stroke-dasharray="1,2" opacity="0.55"/>
<line x1="114.6" y1="15" x2="114.6" y2="301" stroke="#8ca0d0" stroke-width="1" stroke-dasharray="1,2" opacity="0.55"/>
<line x1="53" y1="18.4" x2="169" y2="18.4" stroke="#8ca0d0" stroke-width="1" stroke-dasharray="1,2" opacity="0.55"/>
<line x1="53" y1="36.1" x2="169" y2="36.1" stroke="#8ca0d0" stroke-width="1" stroke-dasharray="1,2" opacity="0.55"/>
<line x1="53" y1="53.7" x2="169" y2="53.7" stroke="#8ca0d0" stroke-width="1" stroke-dasharray="1,2" opacity="0.55"/>
<line x1="53" y1="71.4" x2="169" y2="71.4" stroke="#8ca0d0" stroke-width="1" stroke-dasharray="1,2" opacity="0.55"/>
<line x1="53" y1="89.1" x2="169" y2="89.1" stroke="#8ca0d0" stroke-width="1" stroke-dasharray="1,2" opacity="0.55"/>
<line x1="53" y1="106.8" x2="169" y2="106.8" stroke="#8ca0d0" stroke-width="1" stroke-dasharray="1,2" opacity="0.55"/>
<line x1="53" y1="124.4" x2="169" y2="124.4" stroke="#8ca0d0" stroke-width="1" stroke-dasharray="1,2" opacity="0.55"/>
<line x1="53" y1="142.1" x2="169" y2="142.1" stroke="#8ca0d0" stroke-width="1" stroke-dasharray="1,2" opacity="0.55"/>
<line x1="53" y1="159.8" x2="169" y2="159.8" stroke="#8ca0d0" stroke-width="1" stroke-dasharray="1,2" opacity="0.55"/>
<line x1="53" y1="177.4" x2="169" y2="177.4" stroke="#8ca0d0" stroke-width="1" stroke-dasharray="1,2" opacity="0.55"/>
<line x1="53" y1="195.1" x2="169" y2="195.1" stroke="#8ca0d0" stroke-width="1" stroke-dasharray="1,2" opacity="0.55"/>
<line x1="53" y1="212.8" x2="169" y2="212.8" stroke="#8ca0d0" stroke-width="1" stroke-dasharray="1,2" opacity="0.55"/>
<line x1="53" y1="230.4" x2="169" y2="230.4" stroke="#8ca0d0" stroke-width="1" stroke-dasharray="1,2" opacity="0.55"/>
<line x1="53" y1="248.1" x2="169" y2="248.1" stroke="#8ca0d0" stroke-width="1" stroke-dasharray="1,2" opacity="0.55"/>
<line x1="53" y1="265.8" x2="169" y2="265.8" stroke="#8ca0d0" stroke-width="1" stroke-dasharray="1,2" opacity="0.55"/>
<line x1="53" y1="283.4" x2="169" y2="283.4" stroke="#8ca0d0" stroke-width="1" stroke-dasharray="1,2" opacity="0.55"/>
<rect x="53" y="14" width="116.5" height="287.5" fill="none" stroke="#66665e" stroke-width="1.2"/>
<line x1="49" y1="18.4" x2="52.5" y2="18.4" stroke="#505050" stroke-width="1"/>
<text x="48.8" y="21.0" text-anchor="end" class="lt">681600</text>
<line x1="49" y1="36.1" x2="52.5" y2="36.1" stroke="#505050" stroke-width="1"/>
<text x="48.8" y="38.7" text-anchor="end" class="lt">681400</text>
<line x1="49" y1="53.7" x2="52.5" y2="53.7" stroke="#505050" stroke-width="1"/>
<text x="48.8" y="56.3" text-anchor="end" class="lt">681200</text>
<line x1="49" y1="71.4" x2="52.5" y2="71.4" stroke="#505050" stroke-width="1"/>
<text x="48.8" y="74.0" text-anchor="end" class="lt">681000</text>
<line x1="49" y1="89.1" x2="52.5" y2="89.1" stroke="#505050" stroke-width="1"/>
<text x="48.8" y="91.7" text-anchor="end" class="lt">680800</text>
<line x1="49" y1="106.8" x2="52.5" y2="106.8" stroke="#505050" stroke-width="1"/>
<text x="48.8" y="109.3" text-anchor="end" class="lt">680600</text>
<line x1="49" y1="124.4" x2="52.5" y2="124.4" stroke="#505050" stroke-width="1"/>
<text x="48.8" y="127.0" text-anchor="end" class="lt">680400</text>
<line x1="49" y1="142.1" x2="52.5" y2="142.1" stroke="#505050" stroke-width="1"/>
<text x="48.8" y="144.7" text-anchor="end" class="lt">680200</text>
<line x1="49" y1="159.8" x2="52.5" y2="159.8" stroke="#505050" stroke-width="1"/>
<text x="48.8" y="162.4" text-anchor="end" class="lt">680000</text>
<line x1="49" y1="177.4" x2="52.5" y2="177.4" stroke="#505050" stroke-width="1"/>
<text x="48.8" y="180.0" text-anchor="end" class="lt">679800</text>
<line x1="49" y1="195.1" x2="52.5" y2="195.1" stroke="#505050" stroke-width="1"/>
<text x="48.8" y="197.7" text-anchor="end" class="lt">679600</text>
<line x1="49" y1="212.8" x2="52.5" y2="212.8" stroke="#505050" stroke-width="1"/>
<text x="48.8" y="215.4" text-anchor="end" class="lt">679400</text>
<line x1="49" y1="230.4" x2="52.5" y2="230.4" stroke="#505050" stroke-width="1"/>
<text x="48.8" y="233.0" text-anchor="end" class="lt">679200</text>
<line x1="49" y1="248.1" x2="52.5" y2="248.1" stroke="#505050" stroke-width="1"/>
<text x="48.8" y="250.7" text-anchor="end" class="lt">679000</text>
<line x1="49" y1="265.8" x2="52.5" y2="265.8" stroke="#505050" stroke-width="1"/>
<text x="48.8" y="268.4" text-anchor="end" class="lt">678800</text>
<line x1="49" y1="283.4" x2="52.5" y2="283.4" stroke="#505050" stroke-width="1"/>
<text x="48.8" y="286.1" text-anchor="end" class="lt">678600</text>
<line x1="49" y1="301.1" x2="52.5" y2="301.1" stroke="#505050" stroke-width="1"/>
<text x="48.8" y="303.7" text-anchor="end" class="lt">678400</text>
<text x="59.3" y="312.3" text-anchor="middle" class="lt">311500</text>
<line x1="53.6" y1="301.5" x2="53.6" y2="303.2" stroke="#505050" stroke-width="0.8"/>
<line x1="59.1" y1="301.5" x2="59.1" y2="303.8" stroke="#505050" stroke-width="0.8"/>
<line x1="64.6" y1="301.5" x2="64.6" y2="303.2" stroke="#505050" stroke-width="0.8"/>
<line x1="70.2" y1="301.5" x2="70.2" y2="303.2" stroke="#505050" stroke-width="0.8"/>
<line x1="75.7" y1="301.5" x2="75.7" y2="303.2" stroke="#505050" stroke-width="0.8"/>
<line x1="81.2" y1="301.5" x2="81.2" y2="303.2" stroke="#505050" stroke-width="0.8"/>
<line x1="86.8" y1="301.5" x2="86.8" y2="303.2" stroke="#505050" stroke-width="0.8"/>
<line x1="92.3" y1="301.5" x2="92.3" y2="303.2" stroke="#505050" stroke-width="0.8"/>
<line x1="97.8" y1="301.5" x2="97.8" y2="303.2" stroke="#505050" stroke-width="0.8"/>
<line x1="103.3" y1="301.5" x2="103.3" y2="303.2" stroke="#505050" stroke-width="0.8"/>
<line x1="108.9" y1="301.5" x2="108.9" y2="303.2" stroke="#505050" stroke-width="0.8"/>
<line x1="114.4" y1="301.5" x2="114.4" y2="303.8" stroke="#505050" stroke-width="0.8"/>
<line x1="119.9" y1="301.5" x2="119.9" y2="303.2" stroke="#505050" stroke-width="0.8"/>
<line x1="125.5" y1="301.5" x2="125.5" y2="303.2" stroke="#505050" stroke-width="0.8"/>
<line x1="131.0" y1="301.5" x2="131.0" y2="303.2" stroke="#505050" stroke-width="0.8"/>
<line x1="136.5" y1="301.5" x2="136.5" y2="303.2" stroke="#505050" stroke-width="0.8"/>
<line x1="142.1" y1="301.5" x2="142.1" y2="303.2" stroke="#505050" stroke-width="0.8"/>
<line x1="147.6" y1="301.5" x2="147.6" y2="303.2" stroke="#505050" stroke-width="0.8"/>
<line x1="153.1" y1="301.5" x2="153.1" y2="303.2" stroke="#505050" stroke-width="0.8"/>
<line x1="158.6" y1="301.5" x2="158.6" y2="303.2" stroke="#505050" stroke-width="0.8"/>
<line x1="164.2" y1="301.5" x2="164.2" y2="303.2" stroke="#505050" stroke-width="0.8"/>
<line x1="50.5" y1="18.4" x2="52.5" y2="18.4" stroke="#606060" stroke-width="0.7"/>
<line x1="50.5" y1="22.8" x2="52.5" y2="22.8" stroke="#606060" stroke-width="0.7"/>
<line x1="50.5" y1="27.2" x2="52.5" y2="27.2" stroke="#606060" stroke-width="0.7"/>
<line x1="50.5" y1="31.7" x2="52.5" y2="31.7" stroke="#606060" stroke-width="0.7"/>
<line x1="50.5" y1="36.1" x2="52.5" y2="36.1" stroke="#606060" stroke-width="0.7"/>
<line x1="50.5" y1="40.5" x2="52.5" y2="40.5" stroke="#606060" stroke-width="0.7"/>
<line x1="50.5" y1="44.9" x2="52.5" y2="44.9" stroke="#606060" stroke-width="0.7"/>
<line x1="50.5" y1="49.3" x2="52.5" y2="49.3" stroke="#606060" stroke-width="0.7"/>
<line x1="50.5" y1="53.7" x2="52.5" y2="53.7" stroke="#606060" stroke-width="0.7"/>
<line x1="50.5" y1="58.2" x2="52.5" y2="58.2" stroke="#606060" stroke-width="0.7"/>
<line x1="50.5" y1="62.6" x2="52.5" y2="62.6" stroke="#606060" stroke-width="0.7"/>
<line x1="50.5" y1="67.0" x2="52.5" y2="67.0" stroke="#606060" stroke-width="0.7"/>
<line x1="50.5" y1="71.4" x2="52.5" y2="71.4" stroke="#606060" stroke-width="0.7"/>
<line x1="50.5" y1="75.8" x2="52.5" y2="75.8" stroke="#606060" stroke-width="0.7"/>
<line x1="50.5" y1="80.2" x2="52.5" y2="80.2" stroke="#606060" stroke-width="0.7"/>
<line x1="50.5" y1="84.7" x2="52.5" y2="84.7" stroke="#606060" stroke-width="0.7"/>
<line x1="50.5" y1="89.1" x2="52.5" y2="89.1" stroke="#606060" stroke-width="0.7"/>
<line x1="50.5" y1="93.5" x2="52.5" y2="93.5" stroke="#606060" stroke-width="0.7"/>
<line x1="50.5" y1="97.9" x2="52.5" y2="97.9" stroke="#606060" stroke-width="0.7"/>
<line x1="50.5" y1="102.3" x2="52.5" y2="102.3" stroke="#606060" stroke-width="0.7"/>
<line x1="50.5" y1="106.8" x2="52.5" y2="106.8" stroke="#606060" stroke-width="0.7"/>
<line x1="50.5" y1="111.2" x2="52.5" y2="111.2" stroke="#606060" stroke-width="0.7"/>
<line x1="50.5" y1="115.6" x2="52.5" y2="115.6" stroke="#606060" stroke-width="0.7"/>
<line x1="50.5" y1="120.0" x2="52.5" y2="120.0" stroke="#606060" stroke-width="0.7"/>
<line x1="50.5" y1="124.4" x2="52.5" y2="124.4" stroke="#606060" stroke-width="0.7"/>
<line x1="50.5" y1="128.8" x2="52.5" y2="128.8" stroke="#606060" stroke-width="0.7"/>
<line x1="50.5" y1="133.3" x2="52.5" y2="133.3" stroke="#606060" stroke-width="0.7"/>
<line x1="50.5" y1="137.7" x2="52.5" y2="137.7" stroke="#606060" stroke-width="0.7"/>
<line x1="50.5" y1="142.1" x2="52.5" y2="142.1" stroke="#606060" stroke-width="0.7"/>
<line x1="50.5" y1="146.5" x2="52.5" y2="146.5" stroke="#606060" stroke-width="0.7"/>
<line x1="50.5" y1="150.9" x2="52.5" y2="150.9" stroke="#606060" stroke-width="0.7"/>
<line x1="50.5" y1="155.3" x2="52.5" y2="155.3" stroke="#606060" stroke-width="0.7"/>
<line x1="50.5" y1="159.8" x2="52.5" y2="159.8" stroke="#606060" stroke-width="0.7"/>
<line x1="50.5" y1="164.2" x2="52.5" y2="164.2" stroke="#606060" stroke-width="0.7"/>
<line x1="50.5" y1="168.6" x2="52.5" y2="168.6" stroke="#606060" stroke-width="0.7"/>
<line x1="50.5" y1="173.0" x2="52.5" y2="173.0" stroke="#606060" stroke-width="0.7"/>
<line x1="50.5" y1="177.4" x2="52.5" y2="177.4" stroke="#606060" stroke-width="0.7"/>
<line x1="50.5" y1="181.8" x2="52.5" y2="181.8" stroke="#606060" stroke-width="0.7"/>
<line x1="50.5" y1="186.3" x2="52.5" y2="186.3" stroke="#606060" stroke-width="0.7"/>
<line x1="50.5" y1="190.7" x2="52.5" y2="190.7" stroke="#606060" stroke-width="0.7"/>
<line x1="50.5" y1="195.1" x2="52.5" y2="195.1" stroke="#606060" stroke-width="0.7"/>
<line x1="50.5" y1="199.5" x2="52.5" y2="199.5" stroke="#606060" stroke-width="0.7"/>
<line x1="50.5" y1="203.9" x2="52.5" y2="203.9" stroke="#606060" stroke-width="0.7"/>
<line x1="50.5" y1="208.4" x2="52.5" y2="208.4" stroke="#606060" stroke-width="0.7"/>
<line x1="50.5" y1="212.8" x2="52.5" y2="212.8" stroke="#606060" stroke-width="0.7"/>
<line x1="50.5" y1="217.2" x2="52.5" y2="217.2" stroke="#606060" stroke-width="0.7"/>
<line x1="50.5" y1="221.6" x2="52.5" y2="221.6" stroke="#606060" stroke-width="0.7"/>
<line x1="50.5" y1="226.0" x2="52.5" y2="226.0" stroke="#606060" stroke-width="0.7"/>
<line x1="50.5" y1="230.4" x2="52.5" y2="230.4" stroke="#606060" stroke-width="0.7"/>
<line x1="50.5" y1="234.9" x2="52.5" y2="234.9" stroke="#606060" stroke-width="0.7"/>
<line x1="50.5" y1="239.3" x2="52.5" y2="239.3" stroke="#606060" stroke-width="0.7"/>
<line x1="50.5" y1="243.7" x2="52.5" y2="243.7" stroke="#606060" stroke-width="0.7"/>
<line x1="50.5" y1="248.1" x2="52.5" y2="248.1" stroke="#606060" stroke-width="0.7"/>
<line x1="50.5" y1="252.5" x2="52.5" y2="252.5" stroke="#606060" stroke-width="0.7"/>
<line x1="50.5" y1="256.9" x2="52.5" y2="256.9" stroke="#606060" stroke-width="0.7"/>
<line x1="50.5" y1="261.4" x2="52.5" y2="261.4" stroke="#606060" stroke-width="0.7"/>
<line x1="50.5" y1="265.8" x2="52.5" y2="265.8" stroke="#606060" stroke-width="0.7"/>
<line x1="50.5" y1="270.2" x2="52.5" y2="270.2" stroke="#606060" stroke-width="0.7"/>
<line x1="50.5" y1="274.6" x2="52.5" y2="274.6" stroke="#606060" stroke-width="0.7"/>
<line x1="50.5" y1="279.0" x2="52.5" y2="279.0" stroke="#606060" stroke-width="0.7"/>
<line x1="50.5" y1="283.4" x2="52.5" y2="283.4" stroke="#606060" stroke-width="0.7"/>
<line x1="50.5" y1="287.9" x2="52.5" y2="287.9" stroke="#606060" stroke-width="0.7"/>
<line x1="50.5" y1="292.3" x2="52.5" y2="292.3" stroke="#606060" stroke-width="0.7"/>
<line x1="50.5" y1="296.7" x2="52.5" y2="296.7" stroke="#606060" stroke-width="0.7"/>
<text x="114.6" y="312.3" text-anchor="middle" class="lt">312000</text>
<text x="189.5" y="228.3" class="lg" textLength="46" lengthAdjust="spacingAndGlyphs">Bathymetry [m]</text>
<rect x="189.5" y="232.3" width="15" height="6" fill="#b4604a" stroke="#8a8a80" stroke-width="0.6"/>
<text x="207.9" y="237.5" class="lg">Above</text>
<text x="235.5" y="237.5" text-anchor="end" class="lg">0</text>
<rect x="189.5" y="238.7" width="15" height="6" fill="#b88042" stroke="#8a8a80" stroke-width="0.6"/>
<text x="221.5" y="243.9" text-anchor="end" class="lg">-10</text>
<text x="224.5" y="243.9" text-anchor="middle" class="lg">-</text>
<text x="235.5" y="243.9" text-anchor="end" class="lg">0</text>
<rect x="189.5" y="245.1" width="15" height="6" fill="#c8a044" stroke="#8a8a80" stroke-width="0.6"/>
<text x="221.5" y="250.3" text-anchor="end" class="lg">-20</text>
<text x="224.5" y="250.3" text-anchor="middle" class="lg">-</text>
<text x="235.5" y="250.3" text-anchor="end" class="lg">-10</text>
<rect x="189.5" y="251.5" width="15" height="6" fill="#dce650" stroke="#8a8a80" stroke-width="0.6"/>
<text x="221.5" y="256.7" text-anchor="end" class="lg">-30</text>
<text x="224.5" y="256.7" text-anchor="middle" class="lg">-</text>
<text x="235.5" y="256.7" text-anchor="end" class="lg">-20</text>
<rect x="189.5" y="257.9" width="15" height="6" fill="#cce850" stroke="#8a8a80" stroke-width="0.6"/>
<text x="221.5" y="263.1" text-anchor="end" class="lg">-40</text>
<text x="224.5" y="263.1" text-anchor="middle" class="lg">-</text>
<text x="235.5" y="263.1" text-anchor="end" class="lg">-30</text>
<rect x="189.5" y="264.3" width="15" height="6" fill="#b4ee50" stroke="#8a8a80" stroke-width="0.6"/>
<text x="221.5" y="269.5" text-anchor="end" class="lg">-50</text>
<text x="224.5" y="269.5" text-anchor="middle" class="lg">-</text>
<text x="235.5" y="269.5" text-anchor="end" class="lg">-40</text>
<rect x="189.5" y="270.7" width="15" height="6" fill="#a4e458" stroke="#8a8a80" stroke-width="0.6"/>
<text x="221.5" y="275.9" text-anchor="end" class="lg">-60</text>
<text x="224.5" y="275.9" text-anchor="middle" class="lg">-</text>
<text x="235.5" y="275.9" text-anchor="end" class="lg">-50</text>
<rect x="189.5" y="277.1" width="15" height="6" fill="#62c834" stroke="#8a8a80" stroke-width="0.6"/>
<text x="221.5" y="282.3" text-anchor="end" class="lg">-70</text>
<text x="224.5" y="282.3" text-anchor="middle" class="lg">-</text>
<text x="235.5" y="282.3" text-anchor="end" class="lg">-60</text>
<rect x="189.5" y="283.5" width="15" height="6" fill="#44b040" stroke="#8a8a80" stroke-width="0.6"/>
<text x="221.5" y="288.7" text-anchor="end" class="lg">-80</text>
<text x="224.5" y="288.7" text-anchor="middle" class="lg">-</text>
<text x="235.5" y="288.7" text-anchor="end" class="lg">-70</text>
<rect x="189.5" y="289.9" width="15" height="6" fill="#30a044" stroke="#8a8a80" stroke-width="0.6"/>
<text x="207.8" y="295.1" class="lg">Below -80</text>
<rect x="189.5" y="296.3" width="15" height="6" fill="#f0f0ee" stroke="#8a8a80" stroke-width="0.6"/>
<text x="207.8" y="301.5" class="lg">Undefined Value</text>
<g clip-path="url(#cr)">
<rect x="327" y="20" width="513" height="298" fill="#ff2e14"/>
<path d="M425.7,20.0 C423.8,22.5 418.9,29.5 414.5,34.9 C410.1,40.3 404.2,47.8 399.6,52.3 C395.0,56.8 391.2,58.1 387.1,62.2 C383.0,66.3 379.2,71.7 374.7,77.1 C370.1,82.5 364.6,88.5 359.8,94.5 C355.0,100.5 349.4,108.5 346.1,113.2 C342.8,117.9 342.2,118.0 339.9,122.4 C337.6,126.8 334.6,135.2 332.5,139.8 C330.4,144.4 327.9,148.3 327.0,150.0 L327.0,318.0 L840.0,318.0 L840.0,20.0 Z" fill="url(#pRed)"/>
<path d="M566.8,20.0 C559.8,21.0 533.7,24.1 524.6,26.2 C515.5,28.3 516.2,29.3 512.1,32.4 C508.0,35.5 503.8,40.4 499.7,44.8 C495.6,49.1 491.4,54.6 487.3,58.5 C483.2,62.4 478.6,64.9 474.9,68.4 C471.2,71.9 468.2,75.7 464.9,79.6 C461.6,83.5 459.7,86.1 455.0,92.0 C450.3,97.9 441.2,110.3 436.9,115.0 C432.6,119.7 432.3,117.1 429.4,120.0 C426.5,122.9 422.4,127.4 419.5,132.4 C416.6,137.4 414.9,144.0 412.0,149.8 C409.1,155.6 404.9,161.8 402.0,167.2 C399.1,172.6 397.5,176.2 394.6,182.0 C391.7,187.8 387.2,198.2 384.7,202.0 C382.2,205.8 381.7,203.1 379.4,205.0 C377.1,206.9 374.1,210.3 370.8,213.6 C367.5,216.9 363.7,221.2 359.4,225.0 C355.1,228.8 349.3,232.9 345.0,236.5 C340.7,240.1 336.6,243.9 333.6,246.5 C330.6,249.1 328.1,251.3 327.0,252.3 L327.0,318.0 L840.0,318.0 L840.0,20.0 Z" fill="url(#pOra)"/>
<path d="M663.0,74.7 C660.4,74.5 653.5,74.0 647.1,73.4 C640.7,72.8 634.7,71.2 624.7,71.0 C614.8,70.8 595.7,71.6 587.4,72.2 C579.1,72.8 579.2,73.1 575.0,74.7 C570.8,76.3 566.6,79.6 561.9,82.1 C557.2,84.6 551.5,86.3 546.9,89.6 C542.3,92.9 537.8,98.6 534.5,102.0 C531.2,105.4 530.3,106.2 527.0,110.0 C523.7,113.8 518.7,120.4 514.6,124.9 C510.5,129.5 505.7,133.2 502.2,137.3 C498.7,141.5 496.0,145.2 493.5,149.8 C491.0,154.4 488.8,158.9 487.3,164.7 C485.9,170.5 485.8,177.9 484.8,184.6 C483.8,191.3 483.1,198.7 481.1,205.0 C479.1,211.3 475.7,216.0 472.9,222.2 C470.1,228.4 466.6,237.6 464.3,242.2 C462.0,246.8 460.4,246.5 459.2,250.0 C458.0,253.5 458.4,258.6 456.9,263.4 C455.4,268.2 452.8,274.5 450.2,279.0 C447.6,283.5 445.4,288.0 441.3,290.3 C437.2,292.6 432.3,293.2 425.6,292.6 C418.9,292.1 407.4,287.9 401.0,287.0 C394.6,286.1 389.8,287.0 387.5,287.0 L387.5,318.0 L840.0,318.0 L840.0,20.0 L663.0,20.0 Z" fill="#ffff12"/>
<polygon points="332.0,278.0 334.9,275.0 345.0,275.0 351.7,281.4 357.3,291.4 345.0,292.0" fill="#ffff12"/>
<path d="M662.0,106.0 C661.2,107.5 659.1,112.1 657.0,114.8 C654.9,117.5 655.0,120.6 649.6,122.3 C644.2,124.0 633.0,123.7 624.7,124.7 C616.4,125.7 606.5,127.0 599.9,128.5 C593.3,129.9 589.1,131.1 585.0,133.4 C580.9,135.7 577.6,138.8 575.0,142.1 C572.4,145.4 571.9,148.9 569.3,153.5 C566.7,158.1 561.7,163.7 559.4,169.7 C557.1,175.7 556.2,184.3 555.6,189.5 C555.0,194.7 554.8,196.1 555.7,200.9 C556.6,205.7 558.3,213.1 560.9,218.3 C563.5,223.5 567.9,227.7 571.4,232.3 C574.9,237.0 578.7,242.8 581.8,246.2 C584.9,249.6 588.6,251.9 590.0,253.0 L590.0,318.0 L840.0,318.0 L840.0,20.0 L710.0,20.0 L710.0,114.8 L707.4,108.6 L700.0,107.4 L685.0,112.3 L680.0,113.0 Z" fill="#a0fc14"/>
<path d="M708.8,109.8 C707.4,110.8 704.9,113.3 700.3,116.1 C695.7,118.9 688.0,122.6 681.3,126.7 C674.6,130.8 666.9,135.6 660.2,140.5 C653.5,145.4 646.2,150.4 641.1,156.3 C636.0,162.2 632.0,168.5 629.9,175.7 C627.8,182.9 628.9,193.1 628.4,199.6 C627.9,206.1 627.9,206.0 627.1,214.8 C626.3,223.6 623.8,244.3 623.6,252.3 C623.4,260.3 625.6,261.2 626.0,263.0 L640.0,318.0 L840.0,318.0 L840.0,20.0 L712.0,20.0 L712.0,105.0 Z" fill="#50fc18"/>
<path d="M722.0,128.0 C720.2,130.2 714.6,136.4 711.0,141.5 C707.4,146.6 703.5,152.0 700.3,158.4 C697.1,164.8 692.9,173.9 691.9,180.0 C690.9,186.1 693.1,190.4 694.0,195.0 C694.9,199.6 697.0,202.4 697.2,207.4 C697.5,212.4 696.7,219.6 695.5,225.0 C694.3,230.4 692.2,234.8 690.0,240.0 C687.8,245.2 686.1,251.4 682.3,255.9 C678.5,260.4 673.6,263.7 667.4,267.1 C661.2,270.5 650.1,273.5 645.0,276.5 C639.9,279.5 638.3,282.4 637.0,285.0 C635.7,287.6 637.2,290.9 637.3,292.1 L645.0,318.0 L840.0,318.0 L840.0,20.0 L740.0,20.0 L740.0,100.0 L725.0,110.0 Z" fill="url(#pDg)"/>
<path d="M771.0,131.4 C768.7,136.0 760.8,151.1 757.4,158.8 C754.0,166.6 750.6,171.5 750.6,177.9 C750.6,184.3 755.8,190.8 757.4,197.0 C759.0,203.2 760.2,207.7 760.0,215.0 C759.8,222.3 758.4,231.1 756.2,241.1 C754.0,251.1 752.0,263.7 747.0,275.0 C742.0,286.3 730.5,301.8 726.1,309.0 C721.8,316.2 721.8,316.5 720.9,318.0 L840.0,318.0 L840.0,20.0 L771.0,20.0 Z" fill="url(#pDk)"/>
<path d="M790.2,125.0 C792.2,129.7 800.2,144.5 802.5,153.3 C804.8,162.1 804.1,170.6 803.9,177.9 C803.7,185.2 799.9,191.3 801.2,197.0 C802.6,202.7 808.9,206.5 812.0,212.0 C815.1,217.5 818.2,225.2 820.0,230.0 C821.8,234.8 821.4,234.9 822.7,241.1 C824.0,247.3 826.7,261.1 828.0,267.2 C829.3,273.3 828.6,274.6 830.6,277.7 C832.6,280.8 838.4,284.2 840.0,285.5 L840.0,20.0 L790.0,20.0 Z" fill="#22bc5c"/>
<polygon points="780,20 840,20 840,114.6 829.8,103.4 817.3,97.7 809.9,102.2 780,102" fill="#1a908a"/>
<rect x="780" y="20" width="60" height="34.4" fill="#1058b0"/>
<polygon points="567.9,281.8 566.9,297.7 576.8,314.6 582.8,299.7 585.8,287.8 589.8,252.9" fill="#50fc18"/>
<polygon points="582.0,270.0 575.8,273.8 600.0,291.7 612.0,296.0 612.0,318.0 582.0,318.0" fill="#50fc18"/>
<polygon points="612.1,273.1 625.0,263.9 642.8,305.0 621.5,307.0" fill="#50fc18"/>
<polygon points="530.0,300.0 533.0,292.0 540.0,288.0 548.0,292.0 545.0,301.0" fill="#a0fc14"/>
<polygon points="327.0,266.8 336.7,261.2 332.0,278.0 345.6,290.3 376.3,294.8 381.9,287.6 392.0,291.4 392.7,302.6 414.4,304.9 450.0,299.6 484.4,293.8 490.1,293.3 501.6,298.1 517.3,299.6 518.8,293.8 529.7,291.0 530.2,301.0 540.0,300.7 557.9,298.7 558.9,289.8 562.9,281.8 586.8,251.9 589.8,252.9 567.9,281.8 566.9,297.7 576.8,314.6 582.8,299.7 585.8,287.8 581.8,318.0 327.0,318.0" fill="#d7d9d9" stroke="#141414" stroke-width="1.35" stroke-linejoin="miter"/>
<polygon points="612.1,273.1 613.0,273.5 621.0,298.6 621.5,307.0 642.8,305.0 625.0,263.9 626.7,263.4 645.0,304.0 653.3,312.4 674.3,315.6 677.0,318.0 615.0,318.0 617.5,308.0 619.5,300.0" fill="#d7d9d9" stroke="#141414" stroke-width="1.35" stroke-linejoin="miter"/>
<polygon points="637.1,20.0 640.9,27.4 652.1,42.3 662.0,59.7 663.2,62.2 664.5,80.9 679.4,82.1 696.8,87.1 703.0,84.6 705.5,84.7 709.6,97.0 710.9,114.8 715.0,97.0 719.1,97.0 716.4,84.7 738.3,80.6 745.1,88.8 743.8,97.0 735.5,95.7 736.9,103.9 745.1,105.2 742.4,116.2 745.1,117.5 754.7,98.4 761.5,98.4 764.3,108.0 775.2,120.3 779.3,135.5 788.7,135.8 790.0,118.4 803.6,114.6 810.3,96.0 807.4,77.3 798.7,81.0 786.2,77.3 813.6,57.4 807.4,40.0 806.1,20.0" fill="#d7d9d9" stroke="#141414" stroke-width="1.35" stroke-linejoin="miter"/>
<polygon points="662.3,104.5 685.5,104.5 689.8,110.9 699.3,113.0 699.3,117.2 689.8,114.0 683.4,109.8 662.3,105.6" fill="#d7d9d9" stroke="#141414" stroke-width="1.35" stroke-linejoin="miter"/>
<polygon points="594,143 600,140 606,144 601,148" fill="#d7d9d9" stroke="#141414" stroke-width="1.35" stroke-linejoin="miter"/>
<polygon points="664.4,129.2 667,131 676,131 678.1,128.8 677,134.8 665.5,134.8" fill="#d7d9d9" stroke="#141414" stroke-width="1.35" stroke-linejoin="miter"/>
<polygon points="660.5,262 672,262 671,266.5 661.5,266.5" fill="#d7d9d9" stroke="#141414" stroke-width="1.35" stroke-linejoin="miter"/>
<polygon points="795,200 809,197 839.5,202.5 839.5,212 820,209 811,204 814,210 796,209" fill="#d7d9d9" stroke="#141414" stroke-width="1.35" stroke-linejoin="miter"/>
<polygon points="814,275 827,273 828,279 815,282" fill="#d7d9d9" stroke="#141414" stroke-width="1.35" stroke-linejoin="miter"/>
</g>
<line x1="327.5" y1="20.5" x2="838.5" y2="20.5" stroke="#000" stroke-width="1"/>
<line x1="327.5" y1="20.5" x2="327.5" y2="317.5" stroke="#000" stroke-width="1"/>
<line x1="327.5" y1="317.5" x2="838.5" y2="317.5" stroke="#000" stroke-width="1"/>
<line x1="324" y1="24.5" x2="327.5" y2="24.5" stroke="#000" stroke-width="1"/>
<line x1="324" y1="29.5" x2="327.5" y2="29.5" stroke="#000" stroke-width="1"/>
<line x1="324" y1="34.5" x2="327.5" y2="34.5" stroke="#000" stroke-width="1"/>
<line x1="323" y1="39.5" x2="327.5" y2="39.5" stroke="#000" stroke-width="1"/>
<text x="321.2" y="43.3" text-anchor="end" class="rt">680800</text>
<line x1="324" y1="45.5" x2="327.5" y2="45.5" stroke="#000" stroke-width="1"/>
<line x1="324" y1="50.5" x2="327.5" y2="50.5" stroke="#000" stroke-width="1"/>
<line x1="324" y1="55.5" x2="327.5" y2="55.5" stroke="#000" stroke-width="1"/>
<line x1="324" y1="60.5" x2="327.5" y2="60.5" stroke="#000" stroke-width="1"/>
<line x1="323" y1="65.5" x2="327.5" y2="65.5" stroke="#000" stroke-width="1"/>
<text x="321.2" y="69.3" text-anchor="end" class="rt">680600</text>
<line x1="324" y1="71.5" x2="327.5" y2="71.5" stroke="#000" stroke-width="1"/>
<line x1="324" y1="76.5" x2="327.5" y2="76.5" stroke="#000" stroke-width="1"/>
<line x1="324" y1="81.5" x2="327.5" y2="81.5" stroke="#000" stroke-width="1"/>
<line x1="324" y1="86.5" x2="327.5" y2="86.5" stroke="#000" stroke-width="1"/>
<line x1="323" y1="91.5" x2="327.5" y2="91.5" stroke="#000" stroke-width="1"/>
<text x="321.2" y="95.3" text-anchor="end" class="rt">680400</text>
<line x1="324" y1="97.5" x2="327.5" y2="97.5" stroke="#000" stroke-width="1"/>
<line x1="324" y1="102.5" x2="327.5" y2="102.5" stroke="#000" stroke-width="1"/>
<line x1="324" y1="107.5" x2="327.5" y2="107.5" stroke="#000" stroke-width="1"/>
<line x1="324" y1="112.5" x2="327.5" y2="112.5" stroke="#000" stroke-width="1"/>
<line x1="323" y1="117.5" x2="327.5" y2="117.5" stroke="#000" stroke-width="1"/>
<text x="321.2" y="121.3" text-anchor="end" class="rt">680200</text>
<line x1="324" y1="123.5" x2="327.5" y2="123.5" stroke="#000" stroke-width="1"/>
<line x1="324" y1="128.5" x2="327.5" y2="128.5" stroke="#000" stroke-width="1"/>
<line x1="324" y1="133.5" x2="327.5" y2="133.5" stroke="#000" stroke-width="1"/>
<line x1="324" y1="138.5" x2="327.5" y2="138.5" stroke="#000" stroke-width="1"/>
<line x1="323" y1="143.5" x2="327.5" y2="143.5" stroke="#000" stroke-width="1"/>
<text x="321.2" y="147.3" text-anchor="end" class="rt">680000</text>
<line x1="324" y1="149.5" x2="327.5" y2="149.5" stroke="#000" stroke-width="1"/>
<line x1="324" y1="154.5" x2="327.5" y2="154.5" stroke="#000" stroke-width="1"/>
<line x1="324" y1="159.5" x2="327.5" y2="159.5" stroke="#000" stroke-width="1"/>
<line x1="324" y1="164.5" x2="327.5" y2="164.5" stroke="#000" stroke-width="1"/>
<line x1="323" y1="169.5" x2="327.5" y2="169.5" stroke="#000" stroke-width="1"/>
<text x="321.2" y="173.3" text-anchor="end" class="rt">679800</text>
<line x1="324" y1="175.5" x2="327.5" y2="175.5" stroke="#000" stroke-width="1"/>
<line x1="324" y1="180.5" x2="327.5" y2="180.5" stroke="#000" stroke-width="1"/>
<line x1="324" y1="185.5" x2="327.5" y2="185.5" stroke="#000" stroke-width="1"/>
<line x1="324" y1="190.5" x2="327.5" y2="190.5" stroke="#000" stroke-width="1"/>
<line x1="323" y1="195.5" x2="327.5" y2="195.5" stroke="#000" stroke-width="1"/>
<text x="321.2" y="199.3" text-anchor="end" class="rt">679600</text>
<line x1="324" y1="201.5" x2="327.5" y2="201.5" stroke="#000" stroke-width="1"/>
<line x1="324" y1="206.5" x2="327.5" y2="206.5" stroke="#000" stroke-width="1"/>
<line x1="324" y1="211.5" x2="327.5" y2="211.5" stroke="#000" stroke-width="1"/>
<line x1="324" y1="216.5" x2="327.5" y2="216.5" stroke="#000" stroke-width="1"/>
<line x1="323" y1="221.5" x2="327.5" y2="221.5" stroke="#000" stroke-width="1"/>
<text x="321.2" y="225.3" text-anchor="end" class="rt">679400</text>
<line x1="324" y1="227.5" x2="327.5" y2="227.5" stroke="#000" stroke-width="1"/>
<line x1="324" y1="232.5" x2="327.5" y2="232.5" stroke="#000" stroke-width="1"/>
<line x1="324" y1="237.5" x2="327.5" y2="237.5" stroke="#000" stroke-width="1"/>
<line x1="324" y1="242.5" x2="327.5" y2="242.5" stroke="#000" stroke-width="1"/>
<line x1="323" y1="247.5" x2="327.5" y2="247.5" stroke="#000" stroke-width="1"/>
<text x="321.2" y="251.3" text-anchor="end" class="rt">679200</text>
<line x1="324" y1="253.5" x2="327.5" y2="253.5" stroke="#000" stroke-width="1"/>
<line x1="324" y1="258.5" x2="327.5" y2="258.5" stroke="#000" stroke-width="1"/>
<line x1="324" y1="263.5" x2="327.5" y2="263.5" stroke="#000" stroke-width="1"/>
<line x1="324" y1="268.5" x2="327.5" y2="268.5" stroke="#000" stroke-width="1"/>
<line x1="323" y1="273.5" x2="327.5" y2="273.5" stroke="#000" stroke-width="1"/>
<text x="321.2" y="277.3" text-anchor="end" class="rt">679000</text>
<line x1="324" y1="279.5" x2="327.5" y2="279.5" stroke="#000" stroke-width="1"/>
<line x1="324" y1="284.5" x2="327.5" y2="284.5" stroke="#000" stroke-width="1"/>
<line x1="324" y1="289.5" x2="327.5" y2="289.5" stroke="#000" stroke-width="1"/>
<line x1="324" y1="294.5" x2="327.5" y2="294.5" stroke="#000" stroke-width="1"/>
<line x1="323" y1="299.5" x2="327.5" y2="299.5" stroke="#000" stroke-width="1"/>
<text x="321.2" y="303.3" text-anchor="end" class="rt">678800</text>
<line x1="324" y1="305.5" x2="327.5" y2="305.5" stroke="#000" stroke-width="1"/>
<line x1="324" y1="310.5" x2="327.5" y2="310.5" stroke="#000" stroke-width="1"/>
<line x1="324" y1="315.5" x2="327.5" y2="315.5" stroke="#000" stroke-width="1"/>
<line x1="330.5" y1="317.5" x2="330.5" y2="321" stroke="#000" stroke-width="1"/>
<line x1="337.5" y1="317.5" x2="337.5" y2="321" stroke="#000" stroke-width="1"/>
<line x1="344.5" y1="317.5" x2="344.5" y2="321" stroke="#000" stroke-width="1"/>
<line x1="351.5" y1="317.5" x2="351.5" y2="321" stroke="#000" stroke-width="1"/>
<line x1="358.5" y1="317.5" x2="358.5" y2="321" stroke="#000" stroke-width="1"/>
<line x1="365.5" y1="317.5" x2="365.5" y2="321" stroke="#000" stroke-width="1"/>
<line x1="372.5" y1="317.5" x2="372.5" y2="321" stroke="#000" stroke-width="1"/>
<line x1="379.5" y1="317.5" x2="379.5" y2="321" stroke="#000" stroke-width="1"/>
<line x1="386.5" y1="317.5" x2="386.5" y2="322" stroke="#000" stroke-width="1"/>
<text x="386.5" y="330.8" text-anchor="middle" class="rt">310500</text>
<line x1="393.5" y1="317.5" x2="393.5" y2="321" stroke="#000" stroke-width="1"/>
<line x1="400.5" y1="317.5" x2="400.5" y2="321" stroke="#000" stroke-width="1"/>
<line x1="407.5" y1="317.5" x2="407.5" y2="321" stroke="#000" stroke-width="1"/>
<line x1="414.5" y1="317.5" x2="414.5" y2="321" stroke="#000" stroke-width="1"/>
<line x1="421.5" y1="317.5" x2="421.5" y2="321" stroke="#000" stroke-width="1"/>
<line x1="428.5" y1="317.5" x2="428.5" y2="321" stroke="#000" stroke-width="1"/>
<line x1="435.5" y1="317.5" x2="435.5" y2="321" stroke="#000" stroke-width="1"/>
<line x1="442.5" y1="317.5" x2="442.5" y2="321" stroke="#000" stroke-width="1"/>
<line x1="449.5" y1="317.5" x2="449.5" y2="321" stroke="#000" stroke-width="1"/>
<line x1="456.5" y1="317.5" x2="456.5" y2="322" stroke="#000" stroke-width="1"/>
<text x="456.5" y="330.8" text-anchor="middle" class="rt">311000</text>
<line x1="463.5" y1="317.5" x2="463.5" y2="321" stroke="#000" stroke-width="1"/>
<line x1="470.5" y1="317.5" x2="470.5" y2="321" stroke="#000" stroke-width="1"/>
<line x1="477.5" y1="317.5" x2="477.5" y2="321" stroke="#000" stroke-width="1"/>
<line x1="484.5" y1="317.5" x2="484.5" y2="321" stroke="#000" stroke-width="1"/>
<line x1="491.5" y1="317.5" x2="491.5" y2="321" stroke="#000" stroke-width="1"/>
<line x1="498.5" y1="317.5" x2="498.5" y2="321" stroke="#000" stroke-width="1"/>
<line x1="505.5" y1="317.5" x2="505.5" y2="321" stroke="#000" stroke-width="1"/>
<line x1="512.5" y1="317.5" x2="512.5" y2="321" stroke="#000" stroke-width="1"/>
<line x1="519.5" y1="317.5" x2="519.5" y2="321" stroke="#000" stroke-width="1"/>
<line x1="526.5" y1="317.5" x2="526.5" y2="322" stroke="#000" stroke-width="1"/>
<text x="526.5" y="330.8" text-anchor="middle" class="rt">311500</text>
<line x1="533.5" y1="317.5" x2="533.5" y2="321" stroke="#000" stroke-width="1"/>
<line x1="540.5" y1="317.5" x2="540.5" y2="321" stroke="#000" stroke-width="1"/>
<line x1="547.5" y1="317.5" x2="547.5" y2="321" stroke="#000" stroke-width="1"/>
<line x1="554.5" y1="317.5" x2="554.5" y2="321" stroke="#000" stroke-width="1"/>
<line x1="561.5" y1="317.5" x2="561.5" y2="321" stroke="#000" stroke-width="1"/>
<line x1="568.5" y1="317.5" x2="568.5" y2="321" stroke="#000" stroke-width="1"/>
<line x1="575.5" y1="317.5" x2="575.5" y2="321" stroke="#000" stroke-width="1"/>
<line x1="582.5" y1="317.5" x2="582.5" y2="321" stroke="#000" stroke-width="1"/>
<line x1="589.5" y1="317.5" x2="589.5" y2="321" stroke="#000" stroke-width="1"/>
<line x1="596.5" y1="317.5" x2="596.5" y2="322" stroke="#000" stroke-width="1"/>
<text x="596.5" y="330.8" text-anchor="middle" class="rt">312000</text>
<line x1="603.5" y1="317.5" x2="603.5" y2="321" stroke="#000" stroke-width="1"/>
<line x1="610.5" y1="317.5" x2="610.5" y2="321" stroke="#000" stroke-width="1"/>
<line x1="617.5" y1="317.5" x2="617.5" y2="321" stroke="#000" stroke-width="1"/>
<line x1="624.5" y1="317.5" x2="624.5" y2="321" stroke="#000" stroke-width="1"/>
<line x1="631.5" y1="317.5" x2="631.5" y2="321" stroke="#000" stroke-width="1"/>
<line x1="638.5" y1="317.5" x2="638.5" y2="321" stroke="#000" stroke-width="1"/>
<line x1="645.5" y1="317.5" x2="645.5" y2="321" stroke="#000" stroke-width="1"/>
<line x1="652.5" y1="317.5" x2="652.5" y2="321" stroke="#000" stroke-width="1"/>
<line x1="659.5" y1="317.5" x2="659.5" y2="321" stroke="#000" stroke-width="1"/>
<line x1="666.5" y1="317.5" x2="666.5" y2="322" stroke="#000" stroke-width="1"/>
<text x="666.5" y="330.8" text-anchor="middle" class="rt">312500</text>
<line x1="673.5" y1="317.5" x2="673.5" y2="321" stroke="#000" stroke-width="1"/>
<line x1="680.5" y1="317.5" x2="680.5" y2="321" stroke="#000" stroke-width="1"/>
<line x1="687.5" y1="317.5" x2="687.5" y2="321" stroke="#000" stroke-width="1"/>
<line x1="694.5" y1="317.5" x2="694.5" y2="321" stroke="#000" stroke-width="1"/>
<line x1="701.5" y1="317.5" x2="701.5" y2="321" stroke="#000" stroke-width="1"/>
<line x1="708.5" y1="317.5" x2="708.5" y2="321" stroke="#000" stroke-width="1"/>
<line x1="715.5" y1="317.5" x2="715.5" y2="321" stroke="#000" stroke-width="1"/>
<line x1="722.5" y1="317.5" x2="722.5" y2="321" stroke="#000" stroke-width="1"/>
<line x1="729.5" y1="317.5" x2="729.5" y2="321" stroke="#000" stroke-width="1"/>
<line x1="736.5" y1="317.5" x2="736.5" y2="322" stroke="#000" stroke-width="1"/>
<text x="736.5" y="330.8" text-anchor="middle" class="rt">313000</text>
<line x1="743.5" y1="317.5" x2="743.5" y2="321" stroke="#000" stroke-width="1"/>
<line x1="750.5" y1="317.5" x2="750.5" y2="321" stroke="#000" stroke-width="1"/>
<line x1="757.5" y1="317.5" x2="757.5" y2="321" stroke="#000" stroke-width="1"/>
<line x1="764.5" y1="317.5" x2="764.5" y2="321" stroke="#000" stroke-width="1"/>
<line x1="771.5" y1="317.5" x2="771.5" y2="321" stroke="#000" stroke-width="1"/>
<line x1="778.5" y1="317.5" x2="778.5" y2="321" stroke="#000" stroke-width="1"/>
<line x1="785.5" y1="317.5" x2="785.5" y2="321" stroke="#000" stroke-width="1"/>
<line x1="792.5" y1="317.5" x2="792.5" y2="321" stroke="#000" stroke-width="1"/>
<line x1="799.5" y1="317.5" x2="799.5" y2="321" stroke="#000" stroke-width="1"/>
<line x1="806.5" y1="317.5" x2="806.5" y2="322" stroke="#000" stroke-width="1"/>
<text x="806.5" y="330.8" text-anchor="middle" class="rt">313500</text>
<line x1="813.5" y1="317.5" x2="813.5" y2="321" stroke="#000" stroke-width="1"/>
<line x1="820.5" y1="317.5" x2="820.5" y2="321" stroke="#000" stroke-width="1"/>
<line x1="827.5" y1="317.5" x2="827.5" y2="321" stroke="#000" stroke-width="1"/>
<line x1="834.5" y1="317.5" x2="834.5" y2="321" stroke="#000" stroke-width="1"/>
<rect x="640.9" y="37.199999999999996" width="1.6" height="1.6" fill="#000"/>
<text x="644" y="36" class="st">t1</text>
<rect x="630.3" y="64.0" width="1.6" height="1.6" fill="#000"/>
<text x="633" y="63" class="st">t2</text>
<rect x="595.3" y="145.3" width="1.6" height="1.6" fill="#000"/>
<text x="597" y="141" class="st">t3</text>
<rect x="565.6999999999999" y="221.0" width="1.6" height="1.6" fill="#000"/>
<text x="569.5" y="220" class="st">t4</text>
<text x="558.5" y="247" class="st">t5</text>
<rect x="556.0" y="246" width="1" height="1" fill="#000"/>
<text x="556.9" y="253.6" class="st">t6</text>
<rect x="554.4" y="252.6" width="1" height="1" fill="#000"/>
<text x="553" y="260.4" class="st">t7</text>
<rect x="550.5" y="259.4" width="1" height="1" fill="#000"/>
<text x="550.4" y="264.3" class="st">t8</text>
<rect x="547.9" y="263.3" width="1" height="1" fill="#000"/>
<text x="548.3" y="269.6" class="st">t9</text>
<rect x="545.8" y="268.6" width="1" height="1" fill="#000"/>
<text x="546" y="275.2" class="st">t10</text>
<rect x="543.5" y="274.2" width="1" height="1" fill="#000"/>
<text x="543.9" y="280.4" class="st">t11</text>
<rect x="541.4" y="279.4" width="1" height="1" fill="#000"/>
<text x="541.5" y="290" class="st">t12</text>
<rect x="539.0" y="289" width="1" height="1" fill="#000"/>
<text x="539" y="296.5" class="st">t13</text>
<rect x="536.5" y="295.5" width="1" height="1" fill="#000"/>
</svg>
<div class="cap" style="left:7.20px;top:352.05px">t1 = N1,</div>
<div class="cap" style="left:69.60px;top:352.05px">t2 = NT,</div>
<div class="cap" style="left:132.40px;top:352.05px">t3 = CT,</div>
<div class="cap" style="left:195.10px;top:352.05px">T4 = ST,</div>
<div class="cap" style="left:263.10px;top:352.05px">t5 = S1,</div>
<div class="cap" style="left:324.40px;top:352.05px">t6=S1/S2,</div>
<div class="cap" style="left:400.60px;top:352.05px">t7 = S2,</div>
<div class="cap" style="left:462.00px;top:352.05px">t8 = S2/S3,</div>
<div class="cap" style="left:548.40px;top:352.05px">t9 = S3,</div>
<div class="cap" style="left:609.60px;top:352.05px">t10 = S3/S4,</div>
<div class="cap" style="left:704.60px;top:352.05px">t11 = S4,</div>
<div class="cap" style="left:775.10px;top:352.05px">T12 = S5,</div>
<div class="cap" style="left:850.80px;top:352.05px">t13 =</div>
<div class="cap" style="left:7.40px;top:375.85px">S5/S6.</div>

</body></html>
